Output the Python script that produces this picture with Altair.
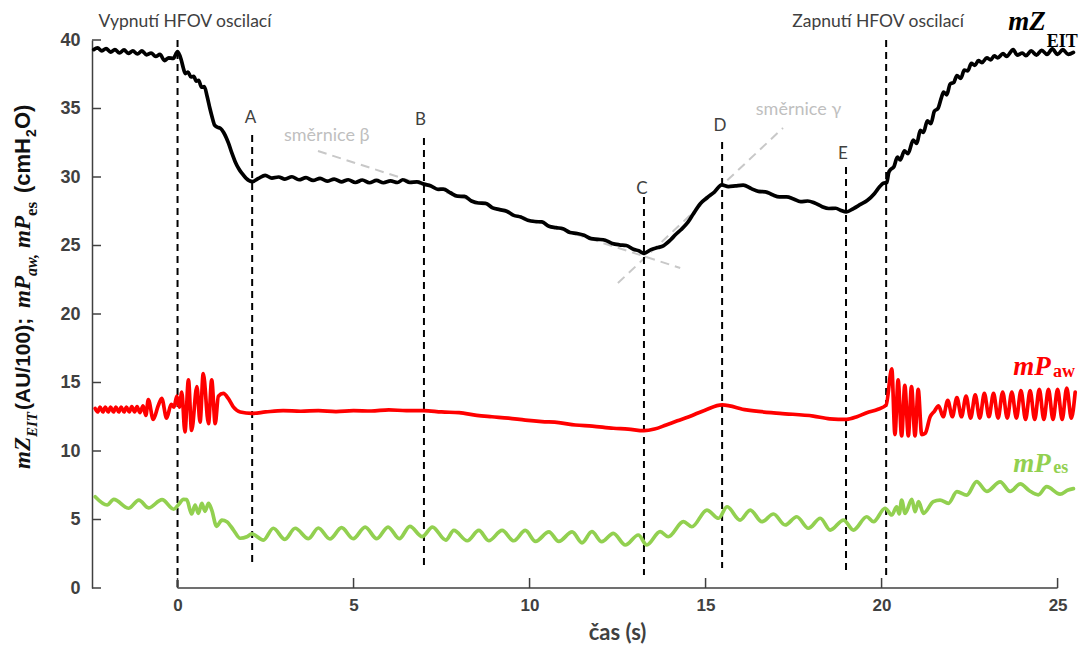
import altair as alt
import pandas as pd

# ---------------- data ----------------
black_t = [-2.38, -2.27, -2.15, -2.03, -1.9, -1.78, -1.65, -1.52, -1.4, -1.27, -1.14, -1.01, -0.88, -0.75,
           -0.62, -0.5, -0.37, -0.25, -0.12, 0.0, 0.1, 0.16, 0.22, 0.3, 0.38, 0.46, 0.53, 0.6, 0.68, 0.76,
           0.84, 0.92, 0.98, 1.05, 1.12, 1.22, 1.31, 1.45, 1.55, 1.64, 1.74, 1.83, 1.95, 2.12, 2.3, 2.49,
           2.68, 2.87, 3.05, 3.25, 3.45, 3.65, 3.85, 4.05, 4.25, 4.45, 4.65, 4.85, 5.05, 5.25, 5.45, 5.65,
           5.85, 6.05, 6.25, 6.4, 6.6, 6.8, 7.0, 7.2, 7.4, 7.55, 7.75, 7.95, 8.15, 8.35, 8.55, 8.75, 8.95,
           9.15, 9.35, 9.55, 9.75, 9.95, 10.15, 10.35, 10.55, 10.75, 10.95, 11.15, 11.35, 11.55, 11.75,
           11.95, 12.15, 12.35, 12.55, 12.75, 12.95, 13.1, 13.25, 13.45, 13.65, 13.8, 14.0, 14.15, 14.3,
           14.5, 14.65, 14.85, 15.05, 15.25, 15.46, 15.65, 15.85, 16.07, 16.3, 16.5, 16.7, 16.9, 17.1, 17.3,
           17.5, 17.7, 17.9, 18.1, 18.3, 18.5, 18.7, 18.85, 19.0, 19.2, 19.4, 19.6, 19.8, 19.95, 20.05,
           20.15, 20.2, 20.26, 20.35, 20.45, 20.53, 20.65, 20.75, 20.9, 21.0, 21.1, 21.19, 21.3, 21.4, 21.5,
           21.6, 21.7, 21.76, 21.85, 21.95, 22.05, 22.14, 22.25, 22.35, 22.45, 22.55, 22.65, 22.75, 22.85,
           22.99, 23.1, 23.2, 23.3, 23.45, 23.55, 23.74, 23.85, 24.0, 24.1, 24.25, 24.4, 24.55, 24.7, 24.85,
           25.0, 25.15, 25.3, 25.45]
black_v = [39.3, 39.42, 39.2, 39.38, 39.12, 39.3, 39.05, 39.28, 39.02, 39.2, 38.98, 39.2, 38.92, 39.05,
           38.8, 38.95, 38.5, 38.7, 38.65, 39.15, 38.6, 38.0, 37.55, 37.65, 37.3, 37.35, 37.0, 37.05, 36.55,
           36.6, 35.9, 35.0, 34.4, 33.8, 33.65, 33.55, 33.25, 32.45, 31.7, 31.1, 30.6, 30.27, 29.9, 29.66,
           29.9, 30.12, 29.92, 30.0, 29.85, 30.02, 29.8, 29.95, 29.75, 29.9, 29.7, 29.85, 29.65, 29.8, 29.6,
           29.78, 29.58, 29.75, 29.58, 29.72, 29.6, 29.8, 29.6, 29.65, 29.48, 29.35, 29.1, 29.12, 28.85,
           28.6, 28.58, 28.25, 28.1, 28.08, 27.75, 27.62, 27.5, 27.2, 27.08, 26.85, 26.75, 26.72, 26.4,
           26.3, 26.22, 25.95, 25.88, 25.75, 25.5, 25.45, 25.38, 25.15, 25.05, 25.0, 24.72, 24.62, 24.42,
           24.7, 24.85, 24.98, 25.4, 25.8, 26.15, 26.7, 27.3, 28.05, 28.5, 28.9, 29.42, 29.3, 29.35, 29.4,
           29.15, 28.95, 28.92, 28.7, 28.55, 28.55, 28.4, 28.2, 28.25, 28.1, 27.85, 27.7, 27.72, 27.55,
           27.45, 27.7, 28.0, 28.3, 28.8, 29.3, 29.55, 29.6, 30.3, 30.55, 30.75, 31.45, 31.25, 31.9, 31.7,
           32.7, 32.45, 33.4, 33.25, 34.1, 33.9, 34.8, 35.0, 35.8, 36.2, 36.0, 36.8, 36.9, 37.4, 37.2, 37.8,
           37.75, 38.3, 38.15, 38.5, 38.35, 38.7, 38.55, 38.85, 38.7, 39.0, 38.8, 39.3, 38.9, 39.05, 38.85,
           39.2, 38.9, 39.25, 38.95, 39.35, 38.95, 39.3, 38.95, 39.1]

red_t = [-2.34, -2.27, -2.2, -2.12, -2.05, -1.97, -1.9, -1.82, -1.75, -1.67, -1.6, -1.52, -1.45, -1.37,
         -1.3, -1.22, -1.15, -1.07, -0.98, -0.9, -0.83, -0.69, -0.55, -0.45, -0.31, -0.18, -0.1, -0.02,
         0.05, 0.12, 0.21, 0.31, 0.4, 0.55, 0.64, 0.73, 0.88, 0.97, 1.07, 1.16, 1.3, 1.45, 1.59, 1.78,
         2.11, 2.5, 3.0, 3.5, 4.0, 4.5, 5.0, 5.5, 6.0, 6.5, 7.0, 7.5, 8.0, 8.5, 8.93, 9.4, 9.88, 10.35,
         10.83, 11.3, 11.78, 12.38, 12.8, 13.25, 13.55, 13.88, 14.2, 14.53, 15.0, 15.47, 16.16, 17.11,
         18.06, 18.53, 19.01, 19.3, 19.58, 19.9, 20.13, 20.29, 20.38, 20.47, 20.57, 20.66, 20.76, 20.85,
         20.95, 21.04, 21.14, 21.24, 21.38, 21.5, 21.62, 21.75, 21.88, 22.01, 22.14, 22.27, 22.4, 22.53,
         22.66, 22.79, 22.92, 23.05, 23.18, 23.31, 23.44, 23.57, 23.7, 23.83, 23.96, 24.09, 24.22, 24.35,
         24.48, 24.61, 24.74, 24.87, 25.0, 25.13, 25.26, 25.39, 25.5]
red_v = [13.1, 12.85, 13.2, 12.85, 13.2, 12.85, 13.2, 12.85, 13.2, 12.85, 13.2, 12.85, 13.2, 12.85, 13.25,
         12.85, 13.25, 12.8, 13.3, 12.6, 13.75, 12.3, 13.3, 13.85, 12.4, 13.4, 13.2, 14.0, 13.2, 14.3,
         11.4, 15.2, 11.5, 14.7, 12.1, 15.65, 12.0, 15.2, 12.0, 14.0, 14.2, 13.8, 13.2, 12.85, 12.75,
         12.85, 12.95, 12.9, 12.95, 12.88, 12.95, 12.92, 13.0, 12.95, 12.95, 12.85, 12.8, 12.6, 12.5, 12.4,
         12.26, 12.15, 12.07, 11.9, 11.82, 11.66, 11.6, 11.48, 11.6, 11.9, 12.2, 12.5, 13.0, 13.36, 13.0,
         12.75, 12.55, 12.35, 12.31, 12.5, 12.8, 13.05, 13.36, 16.0, 11.2, 15.2, 11.1, 14.8, 11.1, 14.7,
         11.1, 14.5, 11.2, 11.3, 12.5, 12.9, 13.3, 12.5, 13.7, 12.5, 13.9, 12.5, 14.0, 12.4, 14.1, 12.4,
         14.2, 12.5, 14.2, 12.4, 14.3, 12.4, 14.3, 12.4, 14.4, 12.3, 14.4, 12.3, 14.5, 12.3, 14.5, 12.3,
         14.5, 12.3, 14.6, 12.4, 14.3]

green_t = [-2.34, -2.0, -1.81, -1.39, -1.1, -0.82, -0.44, -0.11, 0.02, 0.17, 0.26, 0.4, 0.5, 0.59, 0.69,
           0.78, 0.88, 0.97, 1.11, 1.26, 1.4, 1.59, 1.78, 1.97, 2.11, 2.44, 2.72, 3.05, 3.34, 3.72, 4.0,
           4.33, 4.66, 4.99, 5.33, 5.66, 5.98, 6.3, 6.6, 6.95, 7.24, 7.62, 7.85, 8.23, 8.56, 8.84, 9.22,
           9.55, 9.88, 10.17, 10.55, 10.83, 11.21, 11.49, 11.77, 12.05, 12.38, 12.72, 13.09, 13.33, 13.71,
           13.94, 14.37, 14.61, 15.04, 15.37, 15.61, 15.98, 16.27, 16.6, 16.93, 17.26, 17.59, 17.92, 18.26,
           18.54, 18.92, 19.2, 19.58, 19.77, 20.1, 20.29, 20.43, 20.5, 20.57, 20.67, 20.86, 20.95, 21.05,
           21.19, 21.47, 21.66, 21.9, 22.14, 22.42, 22.7, 22.99, 23.37, 23.65, 23.94, 24.2, 24.45, 24.69,
           25.07, 25.3, 25.45]
green_v = [6.66, 6.06, 6.47, 5.82, 6.42, 5.85, 6.45, 5.75, 6.06, 6.47, 6.45, 5.4, 6.06, 5.45, 6.18, 5.6,
           6.18, 5.7, 4.5, 4.96, 4.84, 4.23, 3.63, 3.74, 3.95, 3.5, 4.36, 3.55, 4.36, 3.6, 4.38, 3.58, 4.4,
           3.6, 4.45, 3.6, 4.45, 3.6, 4.5, 3.75, 4.45, 3.5, 4.2, 3.45, 4.2, 3.45, 4.2, 3.45, 4.2, 3.4, 4.1,
           3.4, 4.1, 3.3, 4.11, 3.38, 3.99, 3.14, 3.87, 3.14, 4.11, 3.74, 4.84, 4.47, 5.69, 5.09, 5.93, 4.96,
           5.69, 4.84, 5.4, 4.6, 5.2, 4.36, 5.09, 4.23, 4.96, 4.23, 5.2, 4.84, 5.82, 5.33, 5.93, 5.4, 6.42,
           5.45, 6.47, 5.57, 6.3, 5.45, 6.3, 6.42, 6.18, 7.03, 6.78, 7.76, 7.05, 7.75, 7.05, 7.6, 7.1, 6.8,
           7.4, 6.85, 7.15, 7.25]

series_names = ["mZEIT", "mPaw", "mPes"]
series_colors = ["#000000", "#ff0000", "#92d050"]

x_ticks = [0, 5, 10, 15, 20, 25]
y_ticks = [0, 5, 10, 15, 20, 25, 30, 35, 40]

# event markers: time, top, bottom
marker_t = [0.0, 2.12, 7.0, 13.25, 15.47, 18.99, 20.13]
marker_top = [40.0, 33.07, 32.85, 28.54, 32.55, 30.73, 40.0]
marker_bot = [0.0, 1.9, 1.68, 0.95, 1.46, 1.09, 0.95]

letter_text = ["A", "B", "C", "D", "E"]
letter_t = [2.07, 6.9, 13.19, 15.41, 18.9]
letter_y = [34.28, 34.16, 29.1, 33.72, 31.68]

event_text = ["Vypnutí HFOV oscilací", "Zapnutí HFOV oscilací"]
event_t = [0.21, 19.9]
event_y = [41.3, 41.3]

# slope (směrnice) guide lines: two endpoints each
slope_name = ["beta", "beta", "gamma", "gamma"]
slope_t = [3.99, 14.28, 12.51, 17.2]
slope_v = [31.9, 23.36, 22.26, 33.58]
slope_text = ["směrnice β", "směrnice γ"]
slope_text_t = [4.24, 17.64]
slope_text_y = [33.0, 34.9]

# ---------------- build ----------------
W, H = 986, 548
x_dom = [-2.43, 25.58]
xs = alt.Scale(domain=x_dom, nice=False, zero=False)
ys = alt.Scale(domain=[0, 40], nice=False, zero=False)
AX = "#404040"

X_AX = alt.Axis(values=x_ticks, title=None, domain=False, ticks=False, grid=False,
                labelFont="Liberation Sans Narrow, Liberation Sans", labelFontSize=17,
                labelFontWeight="bold", labelColor=AX, labelPadding=9)
Y_AX = alt.Axis(values=y_ticks, title=None, domain=True, domainColor=AX, domainWidth=1.5, ticks=False,
                grid=False, labelFont="Liberation Sans", labelFontSize=18, labelFontWeight="bold",
                labelColor=AX, labelPadding=12)


def X(field):
    return alt.X(field, scale=xs, axis=X_AX, title=None)


def Y(field):
    return alt.Y(field, scale=ys, axis=Y_AX, title=None)


df = pd.concat([
    pd.DataFrame({"t": black_t, "v": black_v, "s": "mZEIT"}),
    pd.DataFrame({"t": red_t, "v": red_v, "s": "mPaw"}),
    pd.DataFrame({"t": green_t, "v": green_v, "s": "mPes"}),
])
cs = alt.Scale(domain=series_names, range=series_colors)

lines = alt.Chart(df).mark_line(strokeWidth=3.7, strokeJoin="round", strokeCap="round",
                                interpolate="monotone").encode(
    x=X("t:Q"), y=Y("v:Q"), color=alt.Color("s:N", scale=cs, legend=None))

mk = pd.DataFrame({"t": marker_t, "top": marker_top, "bot": marker_bot})
markers = alt.Chart(mk).mark_rule(color="#000000", strokeWidth=2, strokeDash=[7, 5]).encode(
    x=X("t:Q"), y=Y("top:Q"), y2="bot:Q")

sl = pd.DataFrame({"name": slope_name, "t": slope_t, "v": slope_v})
slopes = alt.Chart(sl).mark_line(color="#c8c8c8", strokeWidth=2, strokeDash=[9, 6]).encode(
    x=X("t:Q"), y=Y("v:Q"), detail="name:N")

slt = pd.DataFrame({"text": slope_text, "t": slope_text_t, "v": slope_text_y})
slope_labels = alt.Chart(slt).mark_text(font="Lato", fontSize=18, color="#bfbfbf").encode(
    x=X("t:Q"), y=Y("v:Q"), text="text:N")

lt = pd.DataFrame({"text": letter_text, "t": letter_t, "v": letter_y})
letters = alt.Chart(lt).mark_text(font="Lato", fontSize=17, color=AX).encode(
    x=X("t:Q"), y=Y("v:Q"), text="text:N")

ev = pd.DataFrame({"text": event_text, "t": event_t, "v": event_y})
events = alt.Chart(ev).mark_text(font="Lato", fontSize=17.5, color=AX).encode(
    x=X("t:Q"), y=Y("v:Q"), text="text:N")

# axis line for x (only spans tick range) and inward ticks
xl = pd.DataFrame({"a": [min(x_ticks)], "b": [max(x_ticks)]})
x_line = alt.Chart(xl).mark_rule(color=AX, strokeWidth=1.5).encode(
    x=X("a:Q"), x2="b:Q", y=alt.value(H))
xt = pd.DataFrame({"t": x_ticks})
x_tick_marks = alt.Chart(xt).mark_rule(color=AX, strokeWidth=1.5).encode(
    x=X("t:Q"), y=alt.value(H), y2=alt.value(H - 10))
yt = pd.DataFrame({"v": y_ticks})
y_tick_marks = alt.Chart(yt).mark_rule(color=AX, strokeWidth=1.5).encode(
    y=Y("v:Q"), x=alt.value(0), x2=alt.value(9))

x_title = alt.Chart(pd.DataFrame({"text": ["čas (s)"], "t": [(min(x_ticks) + max(x_ticks)) / 2]})).mark_text(
    font="Lato", fontSize=22, fontWeight="bold", color=AX, baseline="middle").encode(
    x=X("t:Q"), y=alt.value(H + 45), text="text:N")

# series labels (right side), main part + subscript
lab_main = pd.DataFrame({"text": ["mZ", "mP", "mP"], "t": [23.6, 23.74, 23.74], "v": [40.73, 15.55, 8.49],
                         "s": ["mZEIT", "mPaw", "mPes"]})
lab_sub = pd.DataFrame({"text": ["EIT", "aw", "es"], "t": [24.69, 24.87, 24.88], "v": [39.51, 15.42, 8.37],
                        "s": ["mZEIT", "mPaw", "mPes"]})
sl_main = alt.Chart(lab_main).mark_text(font="Liberation Serif", fontSize=27, fontStyle="italic",
                                        fontWeight="bold", align="left", baseline="alphabetic").encode(
    x=X("t:Q"), y=Y("v:Q"), text="text:N", color=alt.Color("s:N", scale=cs, legend=None))
sl_sub = alt.Chart(lab_sub).mark_text(font="Liberation Serif", fontSize=18, fontWeight="bold",
                                      align="left", baseline="alphabetic").encode(
    x=X("t:Q"), y=Y("v:Q"), text="text:N", color=alt.Color("s:N", scale=cs, legend=None))


# rotated y axis title built from pieces (pixel positions relative to plot origin)
def ypiece(text, x, y, font, size, italic=False, bold=True):
    props = dict(font=font, fontSize=size, fontWeight="bold" if bold else "normal", angle=270,
                 align="left", baseline="alphabetic", color="#111111")
    if italic:
        props["fontStyle"] = "italic"
    return alt.Chart(pd.DataFrame({"text": [text]})).mark_text(**props).encode(
        x=alt.value(x), y=alt.value(y), text="text:N")


SER, SAN = "Liberation Serif", "Liberation Sans"
ytitle = [
    ypiece("mZ", -62, 429, SER, 23, italic=True),
    ypiece("EIT", -55, 397, SER, 15, italic=True),
    ypiece("(AU/100);", -62, 370, SAN, 21),
    ypiece("mP", -62, 268, SER, 23, italic=True),
    ypiece("aw,", -55, 236, SER, 16, italic=True),
    ypiece("mP", -62, 208, SER, 23, italic=True),
    ypiece("es", -55, 176, SER, 17),
    ypiece("(cmH", -62, 153, SAN, 22),
    ypiece("2", -56, 97, SAN, 14),
    ypiece("O)", -62, 89, SAN, 22),
]

chart = alt.layer(
    slopes, markers, lines, slope_labels, letters, events, x_line, x_tick_marks, y_tick_marks,
    x_title, sl_main, sl_sub, *ytitle
).properties(
    width=W, height=H, autosize="none",
    padding={"left": 92, "top": 40, "right": 4, "bottom": 60},
    background="white",
).configure_view(stroke=None)

chart.save("out.html", embed_options={"renderer": "svg", "actions": False})
